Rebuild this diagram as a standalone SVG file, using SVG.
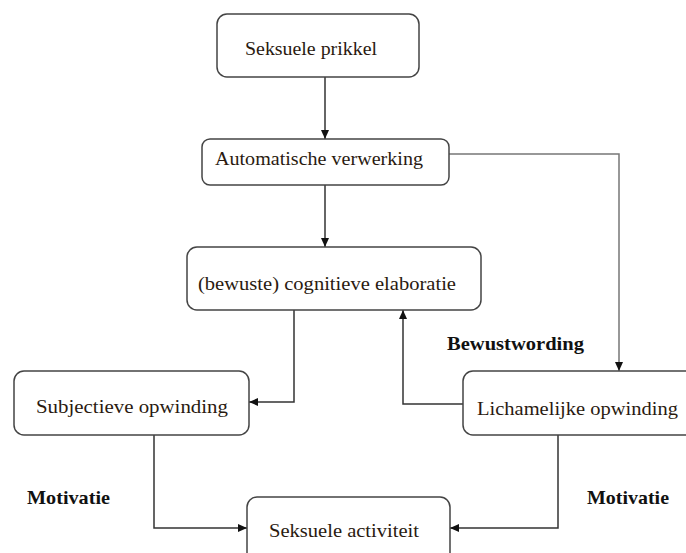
<svg xmlns="http://www.w3.org/2000/svg" width="686" height="553" viewBox="0 0 686 553">
<style>
.box{fill:#fff;stroke:#444;stroke-width:1.5}
.t{font-family:"Liberation Serif","Times New Roman",serif;font-size:19px;fill:#2a1a10}
.b{font-family:"Liberation Serif","Times New Roman",serif;font-size:19px;font-weight:bold;fill:#111}
.c{fill:none;stroke:#333;stroke-width:1.5}
.g{fill:none;stroke:#777;stroke-width:1.5}
</style>
<defs>
<marker id="ah" markerWidth="10" markerHeight="10" refX="9" refY="5" orient="auto" markerUnits="userSpaceOnUse">
<path d="M0,1 L9,5 L0,9 Z" fill="#111"/>
</marker>
</defs>
<rect width="686" height="553" fill="#fff"/>
<g id="connectors">
<path class="c" d="M325,77 V139" marker-end="url(#ah)"/>
<path class="c" d="M325,185 V247" marker-end="url(#ah)"/>
<path class="g" d="M449,154 H619 V371" marker-end="url(#ah)"/>
<path class="c" d="M294,310 V402 H249" marker-end="url(#ah)"/>
<path class="c" d="M463,404 H403 V310" marker-end="url(#ah)"/>
<path class="c" d="M154,435 V528 H247" marker-end="url(#ah)"/>
<path class="c" d="M558,435 V528 H450" marker-end="url(#ah)"/>
</g>
<g id="n1"><rect class="box" x="217" y="14" width="202" height="63" rx="10"/><text class="t" x="245" y="55" textLength="132" lengthAdjust="spacingAndGlyphs">Seksuele prikkel</text></g>
<g id="n2"><rect class="box" x="202" y="139" width="247" height="46" rx="8"/><text class="t" x="215" y="165" textLength="208" lengthAdjust="spacingAndGlyphs">Automatische verwerking</text></g>
<g id="n3"><rect class="box" x="187" y="247" width="294" height="63" rx="10"/><text class="t" x="198" y="290" textLength="258" lengthAdjust="spacingAndGlyphs">(bewuste) cognitieve elaboratie</text></g>
<g id="n4"><rect class="box" x="14" y="371" width="235" height="64" rx="10"/><text class="t" x="36" y="413" textLength="192" lengthAdjust="spacingAndGlyphs">Subjectieve opwinding</text></g>
<g id="n5"><rect class="box" x="463" y="371" width="240" height="64" rx="10"/><text class="t" x="477" y="415" textLength="201" lengthAdjust="spacingAndGlyphs">Lichamelijke opwinding</text></g>
<g id="n6"><rect class="box" x="247" y="497" width="203" height="70" rx="10"/><text class="t" x="269" y="537" textLength="150" lengthAdjust="spacingAndGlyphs">Seksuele activiteit</text></g>
<g id="labels">
<text class="b" x="447" y="350" textLength="137" lengthAdjust="spacingAndGlyphs">Bewustwording</text>
<text class="b" x="27" y="504" textLength="83" lengthAdjust="spacingAndGlyphs">Motivatie</text>
<text class="b" x="587" y="504" textLength="82" lengthAdjust="spacingAndGlyphs">Motivatie</text>
</g>
</svg>
